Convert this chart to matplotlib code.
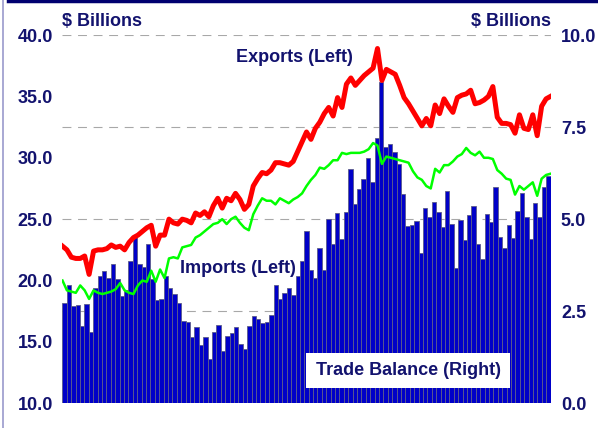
import numpy as np
import pandas as pd
from matplotlib import pyplot as plt
from matplotlib.lines import Line2D

# monthly data, Jan 1995 - Mar 2004 ($ billions)
months = pd.date_range('1995-01-01', periods=111, freq='MS')
years = [str(y) for y in range(1995, 2005)]

exports = [
  22.8, 22.5, 21.9, 21.8, 21.8, 22.0, 20.5, 22.4, 22.5, 22.5, 22.6, 22.9,
  22.7, 22.8, 22.5, 23.1, 23.5, 23.7, 24.0, 24.3, 24.5, 22.8, 23.7, 23.7,
  25.0, 24.7, 24.6, 25.0, 24.9, 24.7, 25.5, 25.3, 25.6, 25.2, 26.1, 26.7,
  25.9, 26.7, 26.5, 27.1, 26.6, 25.8, 26.2, 27.7, 28.3, 28.8, 28.7, 29.0,
  29.6, 29.6, 29.5, 29.4, 29.7, 30.5, 31.3, 32.1, 31.5, 32.4, 32.9, 33.6,
  34.1, 33.4, 34.9, 34.1, 36.0, 36.5, 35.9, 36.3, 36.7, 37.0, 37.3, 38.9,
  36.3, 37.2, 37.0, 36.8, 35.9, 34.9, 34.4, 33.8, 33.2, 32.6, 33.2, 32.6,
  34.3, 33.6, 34.8, 34.2, 33.7, 34.9, 35.1, 35.2, 35.5, 34.4, 34.5, 34.7,
  35.0, 35.8, 33.3, 32.8, 32.8, 32.7, 32.0, 33.5, 32.4, 32.3, 33.5, 31.8,
  34.2, 34.8, 35.0]

imports = [
  20.0, 19.2, 19.1, 19.0, 19.6, 19.2, 18.5, 19.2, 19.0, 18.9, 19.0, 19.1,
  19.3, 19.8, 19.2, 19.0, 18.9, 19.6, 20.0, 19.9, 20.8, 19.9, 20.9, 20.2,
  21.8, 21.9, 21.8, 22.7, 22.8, 22.9, 23.5, 23.7, 24.0, 24.3, 24.6, 24.7,
  25.0, 24.6, 25.0, 25.2, 24.7, 24.3, 24.1, 25.4, 26.1, 26.7, 26.5, 26.5,
  26.2, 26.7, 26.5, 26.3, 26.6, 26.8, 27.1, 27.7, 28.2, 28.6, 29.2, 29.1,
  29.4, 29.8, 29.8, 30.4, 30.3, 30.4, 30.4, 30.4, 30.5, 30.7, 31.2, 31.0,
  29.5, 30.1, 30.0, 29.9, 29.8, 29.7, 29.6, 28.9, 28.4, 28.2, 27.7, 27.5,
  29.1, 28.8, 29.4, 29.4, 29.7, 30.1, 30.3, 30.8, 30.4, 30.2, 30.5, 30.0,
  30.0, 29.9, 29.0, 28.7, 28.3, 28.2, 27.0, 27.7, 27.4, 27.7, 28.0, 26.9,
  28.3, 28.6, 28.7]

trade_balance = [
  2.73, 3.20, 2.63, 2.67, 2.10, 2.70, 1.93, 3.13, 3.47, 3.60, 3.40, 3.77,
  3.37, 2.90, 3.07, 3.87, 4.57, 3.77, 3.70, 4.33, 3.37, 2.80, 2.82, 3.47,
  3.13, 2.97, 2.73, 2.23, 2.20, 1.80, 2.07, 1.57, 1.80, 1.20, 1.93, 2.13,
  1.43, 1.83, 1.90, 2.07, 1.60, 1.47, 2.10, 2.37, 2.30, 2.17, 2.20, 2.40,
  3.20, 2.83, 3.00, 3.13, 2.93, 3.47, 3.87, 4.68, 3.63, 3.40, 4.23, 3.63,
  5.00, 4.33, 5.17, 4.47, 5.20, 6.37, 5.40, 5.83, 6.10, 6.67, 6.00, 7.20,
  8.73, 6.97, 7.03, 6.83, 6.50, 5.67, 4.82, 4.85, 4.96, 4.08, 5.29, 5.07,
  5.46, 5.19, 4.79, 5.77, 4.87, 3.67, 4.97, 4.44, 5.10, 5.37, 4.33, 3.93,
  5.15, 4.91, 5.86, 4.51, 4.23, 4.85, 4.49, 5.22, 5.72, 5.05, 4.45, 5.44,
  5.07, 5.88, 6.18]

left_ticks = [10, 15, 20, 25, 30, 35, 40]
right_ticks = [0, 2.5, 5, 7.5, 10]

navy = '#12126e'
plt.rcParams['font.family'] = ['Liberation Sans', 'DejaVu Sans']
plt.rcParams['font.weight'] = 'bold'
fs = 13

fig = plt.figure(figsize=(5.98, 4.28), dpi=100)
fig.patch.set_facecolor('white')

# bars (right axis) are drawn in ax_r, lines (left axis) in ax_l on top
ax_r = fig.add_axes([0.1045, 0.0577, 0.8161, 0.8605])
ax_l = ax_r.twinx()
ax_l.yaxis.tick_left()
ax_r.yaxis.tick_right()
ax_l.set_zorder(ax_r.get_zorder() + 1)
ax_l.patch.set_visible(False)

n = len(months)
x = np.arange(n)
ax_r.bar(x, trade_balance, width=1.0, color='#0000c8', edgecolor='#5c5c8a',
         linewidth=0.6, zorder=2)
ax_r.set_ylim(0, 10)
ax_r.set_yticks(right_ticks)
ax_r.set_yticklabels(['%.1f' % v for v in right_ticks])
ax_r.set_axisbelow(True)
ax_r.grid(axis='y', color='#a8a8a8', linewidth=0.8, linestyle=(0, (8, 6)))
ax_r.grid(axis='x', visible=False)

# lines span the full width of the bar area
xl = np.linspace(-0.5, n - 0.5, n)
ax_l.plot(xl, exports, color='#ff0000', linewidth=3.6, solid_joinstyle='round')
ax_l.plot(xl, imports, color='#00ff00', linewidth=1.8, solid_joinstyle='round')
ax_l.set_ylim(10, 40)
ax_l.set_yticks(left_ticks)
ax_l.set_yticklabels(['%.1f' % v for v in left_ticks])

for a in (ax_r, ax_l):
  a.set_xlim(-0.5, n - 0.5)
  for s in a.spines.values():
    s.set_visible(False)
  a.tick_params(length=0, labelsize=fs, labelcolor=navy)

ax_l.tick_params(axis='y', pad=7)
ax_r.tick_params(axis='y', pad=7.5)
ax_r.set_xticks(np.arange(0, n, 12))
ax_r.set_xticklabels(years)
ax_r.tick_params(axis='x', pad=4.5)
ax_l.set_xticks([])

# annotations
ax_l.text(0.356, 0.94, 'Exports (Left)', transform=ax_l.transAxes, fontsize=fs,
          color=navy, ha='left', va='center')
ax_l.text(0.241, 0.365, 'Imports (Left)', transform=ax_l.transAxes, fontsize=fs,
          color=navy, ha='left', va='center')
ax_l.text(0.708, 0.089, 'Trade Balance (Right)', transform=ax_l.transAxes,
          fontsize=fs, color=navy, ha='center', va='center', zorder=10,
          bbox=dict(boxstyle='square,pad=0.5', facecolor='white',
                    edgecolor='none'))

fig.text(62 / 598, 1 - 22 / 428, '$ Billions', fontsize=fs, color=navy,
         ha='left', va='center')
fig.text(551 / 598, 1 - 22 / 428, '$ Billions', fontsize=fs, color=navy,
         ha='right', va='center')

# frame pieces of the original slide
fig.add_artist(Line2D([8 / 598, 1], [1 - 1 / 428, 1 - 1 / 428],
                      transform=fig.transFigure, color='#000070', linewidth=2.5))
fig.add_artist(Line2D([3 / 598, 3 / 598], [0, 1],
                      transform=fig.transFigure, color='#9a9acc', linewidth=1.2))

fig.savefig('out.png', dpi=100, facecolor='white')
